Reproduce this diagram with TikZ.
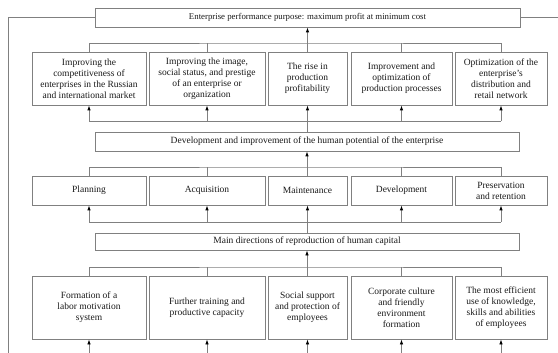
\documentclass[tikz,border=0pt]{standalone}
\usepackage{fontspec}
\setmainfont{Liberation Serif}
\usetikzlibrary{arrows.meta}
\definecolor{linegray}{RGB}{128,128,128}
\definecolor{txt}{RGB}{25,25,25}
\begin{document}
\begin{tikzpicture}[x=1pt,y=-1pt,
  box/.style={draw=linegray, line width=0.8pt, align=center, inner sep=1pt,
    text=txt, font=\fontsize{9.5}{11}\selectfont},
  conn/.style={draw=linegray, line width=0.8pt},
  arr/.style={conn, -{Latex[length=5pt,width=3.5pt,color=black]}}]
\useasboundingbox (0,0) rectangle (558,353);
% top box
\node[box, minimum width=425pt, minimum height=19pt, font=\fontsize{8.8}{10.5}\selectfont] (top) at (307.5,17.5)
  {Enterprise performance purpose: maximum profit at minimum cost};
% row 1
\node[box, minimum width=114pt, minimum height=53pt] (r1a) at (89,78.5)
  {Improving the\\competitiveness of\\enterprises in the Russian\\and international market};
\node[box, minimum width=116pt, minimum height=53pt] (r1b) at (207,78.5)
  {Improving the image,\\social status, and prestige\\of an enterprise or\\organization};
\node[box, minimum width=79pt, minimum height=53pt] (r1c) at (307.5,78.5)
  {The rise in\\production\\profitability};
\node[box, minimum width=101pt, minimum height=53pt] (r1d) at (401.5,78.5)
  {Improvement and\\optimization of\\production processes};
\node[box, minimum width=92pt, minimum height=53pt] (r1e) at (501,78.5)
  {Optimization of the\\enterprise's\\distribution and\\retail network};
% middle box
\node[box, minimum width=424pt, minimum height=19pt] (mid) at (307,141.5)
  {Development and improvement of the human potential of the enterprise};
% row 2
\node[box, minimum width=114pt, minimum height=29pt] (r2a) at (89,190.5) {Planning};
\node[box, minimum width=116pt, minimum height=29pt] (r2b) at (207,190.5) {Acquisition};
\node[box, minimum width=79pt, minimum height=29pt] (r2c) at (307.5,190.5) {Maintenance};
\node[box, minimum width=101pt, minimum height=29pt] (r2d) at (401.5,190.5) {Development};
\node[box, minimum width=92pt, minimum height=29pt] (r2e) at (501,190.5) {Preservation\\and retention};
% main box
\node[box, minimum width=424pt, minimum height=17pt] (main) at (307,241.5)
  {Main directions of reproduction of human capital};
% row 3
\node[box, minimum width=114pt, minimum height=63pt] (r3a) at (89,307.5)
  {Formation of a\\labor motivation\\system};
\node[box, minimum width=116pt, minimum height=63pt] (r3b) at (207,307.5)
  {Further training and\\productive capacity};
\node[box, minimum width=79pt, minimum height=63pt] (r3c) at (307.5,307.5)
  {Social support\\and protection of\\employees};
\node[box, minimum width=101pt, minimum height=63pt] (r3d) at (401.5,307.5)
  {Corporate culture\\and friendly\\environment\\formation};
\node[box, minimum width=92pt, minimum height=63pt] (r3e) at (501,307.5)
  {The most efficient\\use of knowledge,\\skills and abilities\\of employees};
% helper coordinates
\coordinate (k1) at (307,43);
\coordinate (l1) at (307,121);
\coordinate (k2) at (307,167);
\coordinate (l2) at (307,222);
\coordinate (k3) at (307,267);
\coordinate (bot) at (307,353);
\coordinate (lb) at (8,353);
\coordinate (rb) at (558,17.5);
% outer lines
\draw[conn] (top.west) -| (lb);
\draw[conn] (top.east) -- (rb);
% bracket above row 1
\draw[conn] (r1a.north) |- (k1) -| (r1e.north);
\foreach \n in {r1b,r1c,r1d} \draw[conn] (\n.north) -- (\n.north |- k1);
\draw[arr] (top.south |- k1) -- (top.south);
% below row 1
\draw[conn] (r1a.south |- l1) -- (r1e.south |- l1);
\foreach \n in {r1a,r1b,r1c,r1d,r1e} \draw[arr] (\n.south |- l1) -- (\n.south);
\draw[conn] (mid.north) -- (mid.north |- l1);
% bracket above row 2
\draw[conn] (r2a.north) |- (k2) -| (r2e.north);
\foreach \n in {r2b,r2c,r2d} \draw[conn] (\n.north) -- (\n.north |- k2);
\draw[arr] (mid.south |- k2) -- (mid.south);
% below row 2
\draw[conn] (r2a.south |- l2) -- (r2e.south |- l2);
\foreach \n in {r2a,r2b,r2c,r2d,r2e} \draw[arr] (\n.south |- l2) -- (\n.south);
\draw[conn] (main.north) -- (main.north |- l2);
% bracket above row 3
\draw[conn] (r3a.north) |- (k3) -| (r3e.north);
\foreach \n in {r3b,r3c,r3d} \draw[conn] (\n.north) -- (\n.north |- k3);
\draw[arr] (main.south |- k3) -- (main.south);
% below row 3
\foreach \n in {r3a,r3b,r3c,r3d,r3e} \draw[arr] (\n.south |- bot) -- (\n.south);
\end{tikzpicture}
\end{document}
